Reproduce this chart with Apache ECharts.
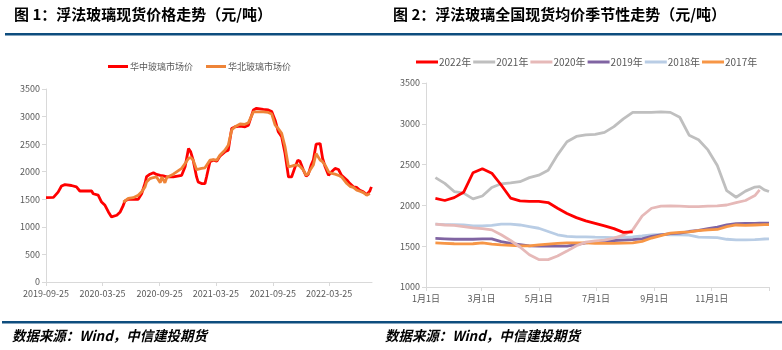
<!DOCTYPE html>
<html>
<head>
<meta charset="utf-8">
<script src="https://cdn.jsdelivr.net/npm/echarts@6/dist/echarts.min.js"></script>
<style>
  html, body { margin: 0; padding: 0; background: #fff; }
  #main { width: 782px; height: 350px; }
</style>
</head>
<body>
<div id="main"></div>
<script>
// 图1：华中 / 华北 玻璃市场价
const dates1 = [
  '2019-09-25','2019-10-19','2019-11-03','2019-11-14','2019-11-25','2019-12-16','2020-01-01','2020-01-12',
  '2020-02-19','2020-02-24','2020-03-11','2020-03-22','2020-04-02','2020-04-13','2020-04-23','2020-04-29',
  '2020-05-10','2020-05-21','2020-05-31','2020-06-05','2020-06-16','2020-07-02','2020-07-18','2020-07-29',
  '2020-08-09','2020-08-14','2020-08-25','2020-09-05','2020-09-15','2020-09-27','2020-10-02','2020-10-07',
  '2020-10-12','2020-10-18','2020-11-08','2020-12-05','2020-12-16','2020-12-27','2021-01-03','2021-01-11',
  '2021-01-22','2021-01-27','2021-02-07','2021-02-18','2021-02-23','2021-03-06','2021-03-17','2021-03-28',
  '2021-04-07','2021-04-23','2021-05-04','2021-05-15','2021-05-26','2021-06-11','2021-06-27','2021-07-08',
  '2021-07-24','2021-08-03','2021-08-25','2021-09-10','2021-09-21','2021-10-02','2021-10-12','2021-10-23',
  '2021-11-03','2021-11-14','2021-11-24','2021-12-05','2021-12-14','2021-12-21','2022-01-01','2022-01-10',
  '2022-01-17','2022-01-26','2022-02-02','2022-02-11','2022-02-24','2022-03-04','2022-03-12','2022-03-23',
  '2022-04-02','2022-04-13','2022-04-24','2022-05-04','2022-05-21','2022-05-31','2022-06-11','2022-06-22',
  '2022-07-02','2022-07-13','2022-07-24','2022-07-29','2022-08-03','2022-08-08'
];
const huazhong = [
  1530,1535,1630,1740,1765,1750,1725,1650,
  1650,1600,1575,1450,1390,1270,1180,1160,
  1210,1270,1390,1470,1500,1500,1500,1600,
  1790,1910,1955,1980,1950,1935,1930,1925,
  1915,1905,1905,1935,2090,2420,2360,2210,
  1905,1815,1785,1785,1905,2180,2210,2190,
  2280,2360,2390,2785,2815,2825,2815,2845,
  3120,3150,3130,3120,3090,2935,2725,2635,
  2330,1905,1905,2080,2210,2190,2030,1920,
  1955,2120,2210,2500,2510,2240,2090,1935,
  2000,2060,2040,1935,1850,1785,1725,1715,
  1665,1635,1585,1575,1650,1725
];
const huabei = [
  null,null,null,null,null,null,null,null,
  null,null,null,null,null,null,null,null,
  null,null,1450,1485,1515,1530,1575,1635,
  1725,1815,1875,1895,1905,1800,1905,1905,
  1800,1895,1955,2060,2150,2240,2260,2210,
  2040,2045,2060,2070,2080,2210,2220,2210,
  2300,2390,2480,2755,2815,2865,2860,2890,
  3085,3085,3085,3075,3045,2845,2785,2695,
  2450,2090,2100,2120,2120,2100,2030,1935,
  1970,2060,2120,2330,2210,2180,2120,2000,
  1970,1955,1935,1905,1785,1735,1715,1665,
  1645,1620,1575,1575,1605,null
];
const ticks1 = ['2019-09-25','2020-03-25','2020-09-25','2021-03-25','2021-09-25','2022-03-25'];

// 图2：季节性（x 为一年中的第几天）
const days2 = [11,21,31,41,51,61,71,81,91,101,111,121,131,141,151,161,171,181,191,201,
  211,221,231,241,251,261,271,281,291,301,311,321,331,341,351,356,361,366];
const y2022 = [2085,2060,2095,2160,2400,2450,2395,2250,2090,2055,2050,2050,2035,1965,1900,1850,1810,1780,1750,1715,
  1670,1675,null,null,null,null,null,null,null,null,null,null,null,null,null,null,null,null];
const y2021 = [2340,2270,2170,2150,2080,2115,2220,2265,2275,2290,2340,2370,2430,2620,2780,2845,2865,2870,2895,2965,
  3060,3140,3140,3140,3145,3140,3080,2860,2805,2680,2490,2180,2100,2175,2225,2230,2190,2170];
const y2020 = [1770,1760,1755,1740,1725,1715,1700,1640,1570,1490,1395,1336,1336,1380,1440,1505,1550,1565,1575,1600,
  1635,1700,1870,1965,1990,1995,1990,1985,1985,1990,1995,2005,2033,2060,2120,2190,null,null];
const y2019 = [1595,1590,1585,1585,1585,1590,1590,1555,1535,1520,1505,1500,1500,1500,1500,1520,1540,1550,1560,1570,
  1575,1580,1590,1620,1640,1655,1660,1680,1695,1715,1735,1760,1775,1778,1780,1781,1782,1782];
const y2018 = [1770,1765,1765,1760,1750,1750,1755,1770,1770,1760,1740,1720,1680,1640,1620,1615,1615,1610,1608,1605,
  1610,1615,1625,1640,1645,1640,1640,1635,1610,1608,1605,1585,1578,1578,1580,1584,1588,1590];
const y2017 = [1540,1535,1530,1528,1530,1540,1525,1515,1510,1505,1505,1515,1525,1535,1540,1540,1540,1535,1535,1535,
  1538,1540,1560,1600,1630,1660,1670,1675,1690,1700,1705,1740,1760,1755,1760,1762,1765,1765];
const tickDays2 = [1,60,121,182,244,305];
const tickLabels2 = ['1月1日','3月1日','5月1日','7月1日','9月1日','11月1日'];

const FONT = 'Noto Sans CJK SC';
const axisGray = '#d9d9d9';
const labelGray = '#595959';

const ts = s => echarts.number.parseDate(s).getTime();
const pad = n => (n < 10 ? '0' : '') + n;

let chart = echarts.init(document.getElementById('main'));

function mkLine(name, xi, x, y, color, z) {
  return {
    name: name, type: 'line', xAxisIndex: xi, yAxisIndex: xi,
    data: x.map((d, i) => [d, y[i]]),
    showSymbol: false, symbol: 'none', z: z || 2,
    lineStyle: { color: color, width: 2.8 },
    itemStyle: { color: color },
    animation: false
  };
}

let option = {
  animation: false,
  textStyle: { fontFamily: FONT },
  graphic: [
    { type: 'text', left: 14, top: 7, style: { text: '图 1：浮法玻璃现货价格走势（元/吨）', font: 'bold 15px "Noto Sans CJK SC"', fill: '#000' } },
    { type: 'text', left: 393, top: 7, style: { text: '图 2：浮法玻璃全国现货均价季节性走势（元/吨）', font: 'bold 15px "Noto Sans CJK SC"', fill: '#000' } },
    { type: 'rect', shape: { x: 5, y: 33, width: 777, height: 2.5 }, style: { fill: '#0e4d7e' } },
    { type: 'rect', shape: { x: 2, y: 321, width: 780, height: 2.5 }, style: { fill: '#0e4d7e' } },
    { type: 'text', x: 12, y: 329, scaleX: 0.96, style: { text: '数据来源：Wind，中信建投期货', font: 'italic bold 14px "Noto Sans CJK SC"', fill: '#000' } },
    { type: 'text', x: 385, y: 329, scaleX: 0.96, style: { text: '数据来源：Wind，中信建投期货', font: 'italic bold 14px "Noto Sans CJK SC"', fill: '#000' } }
  ],
  legend: [
    {
      left: 103, top: 57, icon: 'rect', itemWidth: 20, itemHeight: 3, itemGap: 13,
      data: ['华中玻璃市场价', '华北玻璃市场价'],
      textStyle: { color: labelGray, fontSize: 9, fontFamily: FONT, padding: [0, 0, 0, -3] }
    },
    {
      left: 411, top: 52, width: 375, icon: 'rect', itemWidth: 22, itemHeight: 3, itemGap: 2,
      data: ['2022年', '2021年', '2020年', '2019年', '2018年', '2017年'],
      textStyle: { color: labelGray, fontSize: 10, fontFamily: FONT, padding: [0, 0, 0, -4] }
    }
  ],
  grid: [
    { left: 46, top: 89, width: 326, height: 193 },
    { left: 426, top: 83, width: 343, height: 204 }
  ],
  xAxis: [
    {
      type: 'value', gridIndex: 0,
      min: ts('2019-09-25'), max: ts('2022-08-10'),
      axisLine: { lineStyle: { color: axisGray } },
      axisTick: { show: true, length: 4, lineStyle: { color: axisGray }, customValues: ticks1.map(ts) },
      splitLine: { show: false },
      axisLabel: {
        color: labelGray, fontSize: 9, margin: 7,
        customValues: ticks1.map(ts),
        formatter: v => { const d = new Date(v); return d.getFullYear() + '-' + pad(d.getMonth() + 1) + '-' + pad(d.getDate()); }
      }
    },
    {
      type: 'value', gridIndex: 1, min: 1, max: 366,
      axisLine: { lineStyle: { color: axisGray } },
      axisTick: { show: true, length: 4, lineStyle: { color: axisGray }, customValues: tickDays2.concat([366]) },
      splitLine: { show: false },
      axisLabel: {
        color: labelGray, fontSize: 9, margin: 7,
        customValues: tickDays2,
        formatter: v => tickLabels2[tickDays2.indexOf(v)] || ''
      }
    }
  ],
  yAxis: [
    {
      type: 'value', gridIndex: 0, min: 0, max: 3500, interval: 500,
      axisLine: { show: true, lineStyle: { color: axisGray } },
      axisTick: { show: true, length: 4, lineStyle: { color: axisGray } },
      splitLine: { show: false },
      axisLabel: { color: labelGray, fontSize: 9, margin: 6, formatter: v => String(v) }
    },
    {
      type: 'value', gridIndex: 1, min: 1000, max: 3500, interval: 500,
      axisLine: { show: true, lineStyle: { color: axisGray } },
      axisTick: { show: true, length: 4, lineStyle: { color: axisGray } },
      splitLine: { show: false },
      axisLabel: { color: labelGray, fontSize: 9, margin: 6, formatter: v => String(v) }
    }
  ],
  series: [
    mkLine('华中玻璃市场价', 0, dates1.map(ts), huazhong, '#ff0000', 2),
    mkLine('华北玻璃市场价', 0, dates1.map(ts), huabei, '#ee8438', 3),
    mkLine('2022年', 1, days2, y2022, '#ff0000', 8),
    mkLine('2021年', 1, days2, y2021, '#bfbfbf', 7),
    mkLine('2020年', 1, days2, y2020, '#e6b9b8', 6),
    mkLine('2019年', 1, days2, y2019, '#8064a2', 5),
    mkLine('2018年', 1, days2, y2018, '#b9cde5', 4),
    mkLine('2017年', 1, days2, y2017, '#f79646', 5)
  ]
};

chart.setOption(option);
</script>
</body>
</html>
